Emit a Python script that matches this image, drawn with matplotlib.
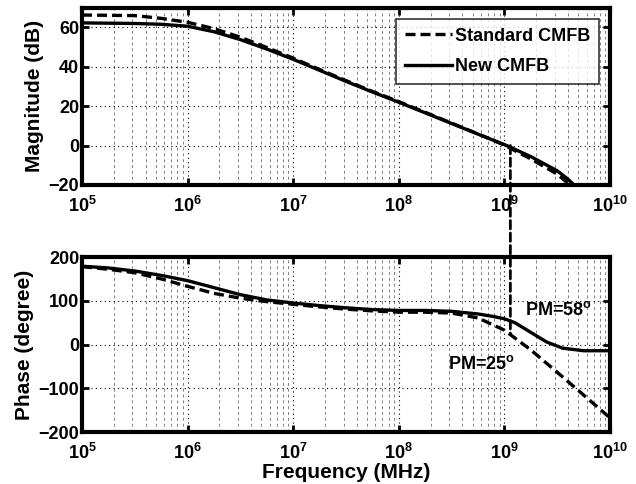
import numpy as np
import matplotlib
matplotlib.use('Agg')
import matplotlib.pyplot as plt
from matplotlib.patches import ConnectionPatch
from matplotlib.ticker import LogLocator, NullFormatter

plt.rcParams['font.family'] = ['Liberation Sans', 'DejaVu Sans']
plt.rcParams['font.weight'] = 'bold'
plt.rcParams['mathtext.fontset'] = 'custom'
plt.rcParams['mathtext.rm'] = 'Liberation Sans:bold'
plt.rcParams['mathtext.bf'] = 'Liberation Sans:bold'
plt.rcParams['mathtext.default'] = 'bf'

# =============================================================================
# Data (log10 of frequency)
# =============================================================================

mag_logf_new = [5.0, 5.5, 5.75, 6.0, 6.25, 6.5, 6.75, 7.0, 7.25, 7.5, 7.75,
                8.0, 8.25, 8.5, 8.75, 9.0, 9.25, 9.5, 9.6, 9.66]
mag_new = [62.3, 62.0, 61.6, 60.6, 57.8, 53.8, 49.0, 43.8, 38.2, 32.6, 27.2,
           22.0, 16.6, 11.2, 5.8, 0.5, -5.6, -12.8, -17.0, -20.0]

mag_logf_std = [5.0, 5.5, 5.75, 6.0, 6.25, 6.5, 6.75, 7.0, 7.25, 7.5, 7.75,
                8.0, 8.25, 8.5, 8.75, 9.0, 9.25, 9.5, 9.62]
mag_std = [66.3, 66.0, 64.6, 62.6, 59.4, 55.0, 49.8, 44.4, 38.6, 33.0, 27.5,
           22.3, 16.9, 11.4, 5.9, 0.2, -6.8, -14.5, -20.0]

ph_logf_new = [5.0, 5.25, 5.5, 5.75, 6.0, 6.25, 6.5, 6.75, 7.0, 7.25, 7.5,
               7.75, 8.0, 8.25, 8.5, 8.75, 8.9, 9.0, 9.1, 9.25, 9.4, 9.55,
               9.75, 10.0]
phase_new = [179, 175, 168, 158, 146, 130, 114, 102, 95, 89, 84,
             80, 78, 78, 76, 70, 64, 59, 50, 28, 6, -8,
             -14, -14]

ph_logf_std = [5.0, 5.25, 5.5, 5.75, 6.0, 6.25, 6.5, 6.75, 7.0, 7.25, 7.5,
               7.75, 8.0, 8.25, 8.5, 8.75, 9.0, 9.25, 9.5, 9.75, 10.0]
phase_std = [178, 172, 164, 150, 133, 117, 106, 98, 92, 86, 81,
             77, 74, 74, 72, 61, 33, -12, -63, -115, -167]

f_cross = 1.14e9
pm_std = 23
legend_labels = ['Standard CMFB', 'New CMFB']


def style_axes(ax, ylim, yticks):
    ax.set_xscale('log')
    ax.set_xlim(1e5, 1e10)
    ax.set_ylim(*ylim)
    ax.set_yticks(yticks)
    ax.set_xticks([1e5, 1e6, 1e7, 1e8, 1e9, 1e10])
    ax.xaxis.set_minor_locator(LogLocator(base=10, subs=np.arange(2, 10), numticks=20))
    ax.xaxis.set_minor_formatter(NullFormatter())
    ax.grid(True, which='major', linestyle=(0, (1, 3)), color='black', linewidth=0.8)
    ax.grid(True, which='minor', axis='x', linestyle=(0, (3, 3)), color='gray', linewidth=0.7)
    ax.tick_params(which='both', direction='in', top=True, right=True, labelsize=13)
    ax.tick_params(axis='y', pad=2)
    ax.tick_params(axis='x', pad=8)
    ax.tick_params(which='major', length=5, width=2)
    ax.tick_params(which='minor', length=0)
    for sp in ax.spines.values():
        sp.set_linewidth(3)


fig = plt.figure(figsize=(6.36, 4.84), dpi=100)
ax1 = fig.add_axes([0.129, 0.618, 0.830, 0.366])
ax2 = fig.add_axes([0.129, 0.107, 0.830, 0.362])

# Magnitude
ax1.plot(10 ** np.array(mag_logf_std), mag_std, color='black', linestyle=(0, (3, 1.5)),
         linewidth=2.4, label=legend_labels[0])
ax1.plot(10 ** np.array(mag_logf_new), mag_new, color='black', linestyle='-',
         linewidth=2.4, label=legend_labels[1])
style_axes(ax1, (-20, 70), [-20, 0, 20, 40, 60])
ax1.set_ylabel('Magnitude (dB)', fontsize=15, fontweight='bold', labelpad=3)
leg = ax1.legend(loc='upper right', fontsize=13, handlelength=2.6, frameon=True,
                 fancybox=False, edgecolor='black', borderpad=0.5, labelspacing=0.75,
                 handletextpad=0.15, borderaxespad=0.6)
leg.get_frame().set_linewidth(1.2)
for t in leg.get_texts():
    t.set_fontweight('bold')

# Phase
ax2.plot(10 ** np.array(ph_logf_std), phase_std, color='black', linestyle=(0, (3, 1.5)),
         linewidth=2.4)
ax2.plot(10 ** np.array(ph_logf_new), phase_new, color='black', linestyle='-', linewidth=2.4)
style_axes(ax2, (-200, 200), [-200, -100, 0, 100, 200])
ax2.set_ylabel('Phase (degree)', fontsize=15, fontweight='bold', labelpad=3)
ax2.set_xlabel('Frequency (MHz)', fontsize=15, fontweight='bold', labelpad=0)

ax2.text(10 ** 9.51, 80, r'PM=58$^\mathrm{o}$', fontsize=13, fontweight='bold',
         ha='center', va='center')
ax2.text(10 ** 8.78, -45, r'PM=25$^\mathrm{o}$', fontsize=13, fontweight='bold',
         ha='center', va='center')

# crossover marker spanning both panels
con = ConnectionPatch(xyA=(f_cross, 0), coordsA=ax1.transData,
                      xyB=(f_cross, pm_std), coordsB=ax2.transData,
                      linestyle=(0, (3, 1.5)), linewidth=2, color='black')
fig.add_artist(con)

plt.savefig('out.png', dpi=100)
